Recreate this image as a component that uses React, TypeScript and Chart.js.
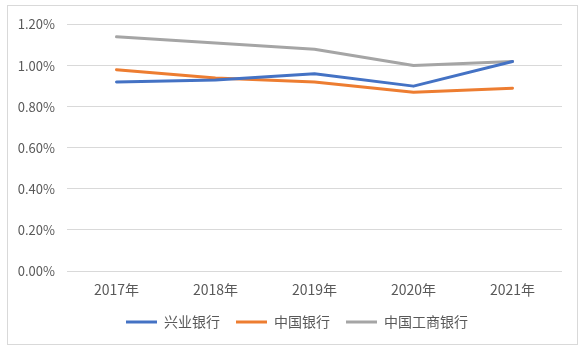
import React, { useEffect, useRef } from "react";
import { Chart, registerables } from "chart.js";

Chart.register(...registerables);

const categories = ["2017年", "2018年", "2019年", "2020年", "2021年"];
const seriesNames = ["兴业银行", "中国银行", "中国工商银行"];
const xingye = [0.92, 0.93, 0.96, 0.90, 1.02];
const zhongguo = [0.98, 0.94, 0.92, 0.87, 0.89];
const gongshang = [1.14, 1.11, 1.08, 1.00, 1.02];
const colors = ["#4472C4", "#ED7D31", "#A5A5A5"];

const FONT = '"Noto Sans CJK SC", "Noto Sans", sans-serif';

const shiftLegend = {
  id: "shiftLegend",
  afterLayout(chart: any) {
    if (chart.legend) chart.legend.left += 24;
  },
};

export default function App() {
  const ref = useRef<HTMLCanvasElement | null>(null);

  useEffect(() => {
    document.body.style.margin = "0";
    const ctx = ref.current!;
    const data = [xingye, zhongguo, gongshang];
    const chart = new Chart(ctx, {
      type: "line",
      plugins: [shiftLegend],
      data: {
        labels: categories,
        datasets: seriesNames.map((name, i) => ({
          label: name,
          data: data[i],
          borderColor: colors[i],
          backgroundColor: colors[i],
          borderWidth: 3,
          pointRadius: 0,
          pointHoverRadius: 0,
          tension: 0,
          borderJoinStyle: "round" as const,
          borderCapStyle: "round" as const,
        })),
      },
      options: {
        animation: false,
        responsive: false,
        maintainAspectRatio: false,
        layout: { padding: { top: 18, right: 15, bottom: 5, left: 0 } },
        plugins: {
          tooltip: { enabled: false },
          legend: {
            position: "bottom",
            labels: {
              boxWidth: 31,
              boxHeight: 3,
              padding: 16,
              color: "#595959",
              font: { family: FONT, size: 14 },
              generateLabels: (c: any) => {
                const items = Chart.defaults.plugins.legend.labels.generateLabels(c);
                return items.map((it: any) => ({ ...it, lineWidth: 0 }));
              },
            },
          },
        },
        scales: {
          x: {
            offset: true,
            grid: { display: false, drawTicks: false },
            border: { display: false },
            ticks: {
              color: "#595959",
              font: { family: FONT, size: 14 },
              padding: 10,
              maxRotation: 0,
            },
            afterFit: (s: any) => {
              s.height = 28;
            },
          },
          y: {
            min: 0,
            max: 1.2,
            border: { display: false },
            grid: { color: "#D9D9D9", lineWidth: 1, drawTicks: false },
            ticks: {
              stepSize: 0.2,
              color: "#595959",
              font: { family: FONT, size: 13, lineHeight: 1 },
              padding: 12,
              callback: (v: any) => Number(v).toFixed(2) + "%",
            },
            afterFit: (s: any) => {
              s.width = 59;
            },
          },
        },
      },
    });
    return () => chart.destroy();
  }, []);

  return (
    <div
      style={{
        position: "absolute",
        left: 7,
        top: 5,
        width: 569,
        height: 338,
        border: "1px solid #D9D9D9",
        background: "#fff",
      }}
    >
      <canvas ref={ref} width={569} height={338} style={{ display: "block" }} />
    </div>
  );
}
